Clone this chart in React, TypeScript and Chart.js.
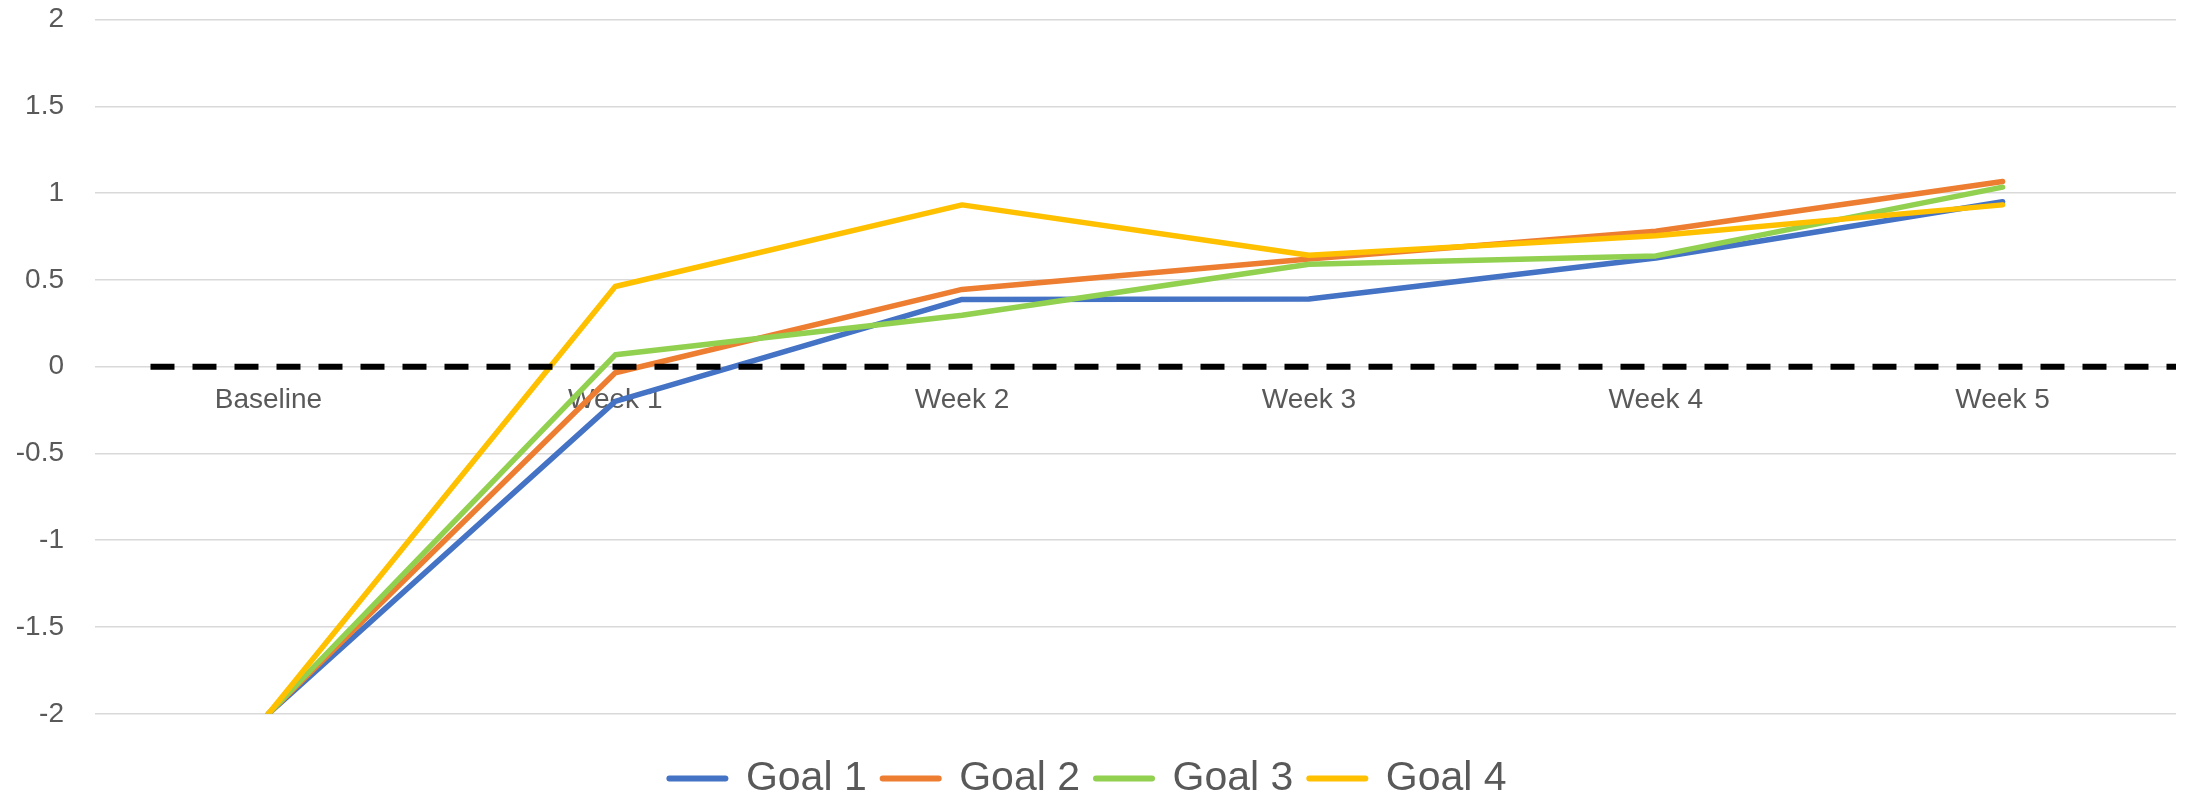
import React, { useEffect, useRef } from "react";
import { Chart, registerables } from "chart.js";

Chart.register(...registerables);

const categories = ["Baseline", "Week 1", "Week 2", "Week 3", "Week 4", "Week 5"];
const goal1 = [-2, -0.2, 0.387, 0.39, 0.626, 0.95];
const goal2 = [-2, -0.035, 0.445, 0.62, 0.78, 1.067];
const goal3 = [-2, 0.068, 0.296, 0.59, 0.638, 1.034];
const goal4 = [-2, 0.462, 0.932, 0.642, 0.754, 0.932];
const seriesNames = ["Goal 1", "Goal 2", "Goal 3", "Goal 4"];
const seriesColors = ["#4472C4", "#ED7D31", "#92D050", "#FFC000"];
// zero reference line, in plot-width units (0 = left edge, 6 = right edge)
const zeroLineX = [0.16, 6];
const zeroLineY = [0, 0];

const FONT = "'Liberation Sans', Arial, sans-serif";
const TEXT = "#595959";
const CANVAS_H = 809;

export default function App() {
  const ref = useRef<HTMLCanvasElement | null>(null);

  useEffect(() => {
    document.body.style.margin = "0";
    document.body.style.overflow = "hidden";
    const canvas = ref.current;
    if (!canvas) return;
    const series = [goal1, goal2, goal3, goal4];
    const datasets: any[] = series.map((d, i) => ({
      label: seriesNames[i],
      data: d,
      xAxisID: "x",
      borderColor: seriesColors[i],
      backgroundColor: seriesColors[i],
      borderWidth: 5.5,
      pointRadius: 0,
      pointHoverRadius: 0,
      tension: 0,
      borderCapStyle: "round",
      borderJoinStyle: "round",
      pointStyle: "line",
      order: 4 - i,
    }));
    datasets.push({
      label: "zero",
      data: zeroLineX.map((x, i) => ({ x, y: zeroLineY[i] })),
      xAxisID: "x2",
      borderColor: "#000000",
      backgroundColor: "#000000",
      borderWidth: 6,
      borderDash: [24, 18],
      pointRadius: 0,
      order: 0,
    });

    const chart = new Chart(canvas, {
      type: "line",
      data: { labels: categories, datasets },
      options: {
        animation: false,
        responsive: false,
        devicePixelRatio: 1,
        layout: { padding: { top: 19.5, left: 0, right: 12, bottom: 0 } },
        scales: {
          x: {
            type: "category",
            position: { y: 0 } as any,
            offset: true,
            grid: { display: false, drawTicks: false },
            border: { display: false },
            ticks: {
              color: TEXT,
              font: { family: FONT, size: 28 },
              padding: 17,
              maxRotation: 0,
              autoSkip: false,
            },
          },
          x2: {
            type: "linear",
            display: false,
            min: 0,
            max: 6,
          },
          y: {
            min: -2,
            max: 2,
            ticks: {
              stepSize: 0.5,
              color: TEXT,
              font: { family: FONT, size: 28 },
              padding: 0,
              callback: (v: any) => String(Math.round(Number(v) * 10) / 10),
            },
            grid: {
              color: "#D9D9D9",
              lineWidth: 1.5,
              drawTicks: true,
              tickLength: 31,
              tickColor: "rgba(0,0,0,0)",
            },
            border: { display: false },
            afterFit: (scale: any) => {
              scale.width = 95;
            },
          },
        },
        plugins: {
          tooltip: { enabled: false },
          legend: {
            position: "bottom",
            title: { display: true, text: " ", font: { size: 1 }, padding: { top: 27, bottom: 0 } },
            labels: {
              usePointStyle: true,
              pointStyleWidth: 56,
              padding: 16,
              color: TEXT,
              font: { family: FONT, size: 41 },
              filter: (item: any) => item.datasetIndex < 4,
              sort: (a: any, b: any) => a.datasetIndex - b.datasetIndex,
              generateLabels: (c: any) =>
                Chart.defaults.plugins.legend.labels
                  .generateLabels(c)
                  .map((it: any) => ({ ...it, lineWidth: 6, lineCap: "round" })),
            },
          },
        },
      },
    });
    return () => chart.destroy();
  }, []);

  return (
    <canvas
      ref={ref}
      width={2188}
      height={CANVAS_H}
      style={{ display: "block", width: 2188, height: CANVAS_H }}
    />
  );
}
